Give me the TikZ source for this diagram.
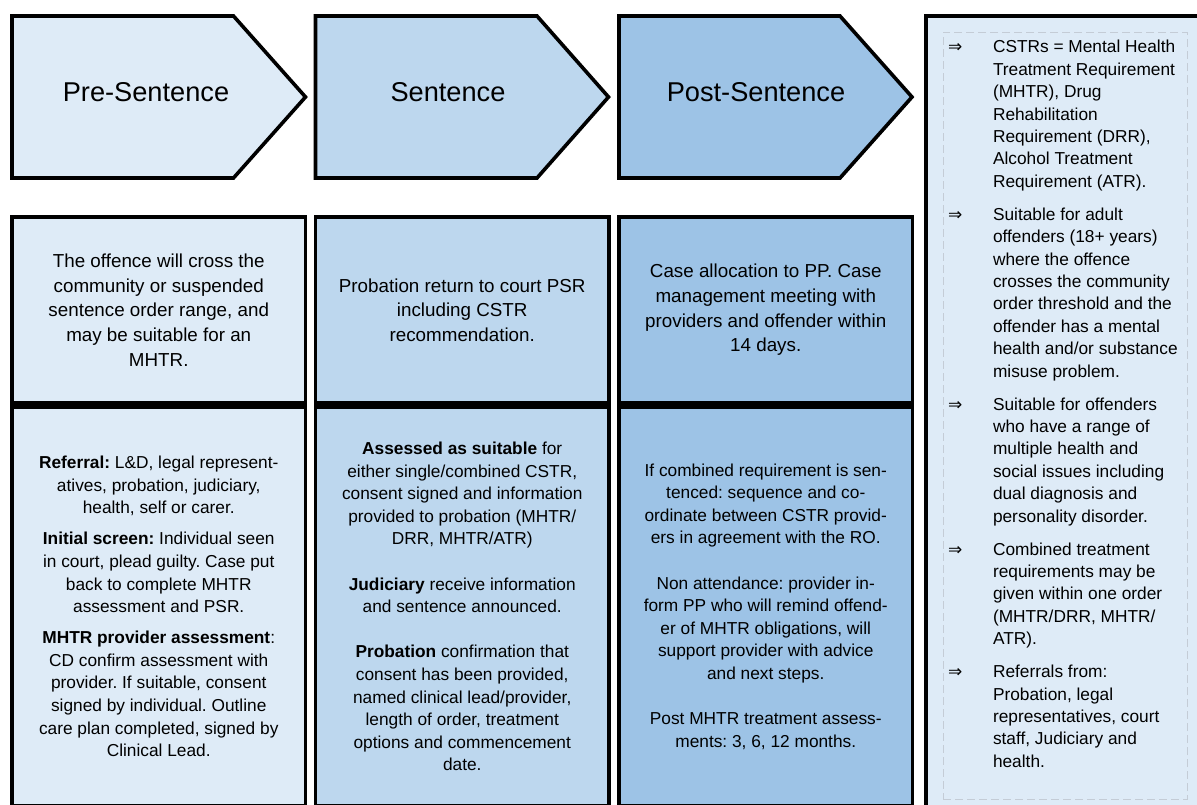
\documentclass[tikz,border=0pt]{standalone}
\usepackage{fontspec}
\setmainfont{Liberation Sans}
\newfontfamily\symfont{DejaVu Sans}
\usepackage{tikz}
\usetikzlibrary{positioning}
\frenchspacing
\definecolor{preblue}{HTML}{DEEBF7}
\definecolor{senblue}{HTML}{BDD7EE}
\definecolor{postblue}{HTML}{9DC3E6}
\definecolor{framegray}{HTML}{C4CCD6}
\tikzset{
  phase/.style      = {draw, line width=3.6pt, line join=miter},
  phasetitle/.style = {inner sep=0pt, font=\fontsize{27.2}{32}\selectfont},
  cell/.style       = {draw, line width=3.6pt, align=center, inner sep=0pt, outer sep=0pt, minimum width=293.5pt},
  midcell/.style    = {cell, minimum height=186pt, font=\fontsize{18.8}{24.7}\selectfont},
  lowcell/.style    = {cell, minimum height=399pt, font=\fontsize{17.3}{22.6}\selectfont},
  note/.style       = {inner sep=0pt, outer sep=0pt, anchor=north west, font=\fontsize{17.3}{22.4}\selectfont},
}
\newcommand\itemarrow{{\symfont\fontsize{17}{17}\selectfont ⇒}}

\begin{document}
\begin{tikzpicture}[x=1pt, y=1pt, node distance=10.6pt]
    \clip (0,0) rectangle (1197,-804);

    % Phase chevrons
    \draw[phase, fill=preblue] (12,-16) -- (233.5,-16) -- (305.5,-97) -- (233.5,-178) -- (12,-178) -- cycle;
    \draw[phase, fill=senblue] (315.5,-16) -- (537,-16) -- (608.5,-97) -- (537,-178) -- (315.5,-178) -- cycle;
    \draw[phase, fill=postblue] (619,-16) -- (840,-16) -- (912,-97) -- (840,-178) -- (619,-178) -- cycle;
    \node[phasetitle] (pre) at (146,-92.5) {Pre-Sentence};
    \node[phasetitle] (sen) at (448,-92.5) {Sentence};
    \node[phasetitle] (post) at (756,-92.5) {Post-Sentence};

    % Summary row
    \node[midcell, fill=preblue] (presum) at (158.75,-310) {The offence will cross the\\ community or suspended\\ sentence order range, and\\ may be suitable for an\\ MHTR.};
    \node[midcell, fill=senblue] (sensum) at (462.25,-310) {Probation return to court PSR\\ including CSTR\\ recommendation.};
    \node[midcell, fill=postblue] (postsum) at (765.75,-310) {Case allocation to PP. Case\\ management meeting with\\ providers and offender within\\ 14 days.};

    % Detail row (runs off the bottom edge)
    \node[lowcell, fill=preblue] (predet) at (158.75,-606.5) {\textbf{Referral:} L\&D, legal represent-\\ atives, probation, judiciary,\\ health, self or carer.\\[8.4pt]
      \textbf{Initial screen:} Individual seen\\ in court, plead guilty. Case put\\ back to complete MHTR\\ assessment and PSR.\\[8.4pt]
      \textbf{MHTR provider assessment}:\\ CD confirm assessment with\\ provider. If suitable, consent\\ signed by individual. Outline\\ care plan completed, signed by\\ Clinical Lead.};
    \node[lowcell, fill=senblue] (sendet) at (462.25,-606.5) {\textbf{Assessed as suitable} for\\ either single/combined CSTR,\\ consent signed and information\\ provided to probation (MHTR/\\ DRR, MHTR/ATR)\\[22.6pt]
      \textbf{Judiciary} receive information\\ and sentence announced.\\[22.6pt]
      \textbf{Probation} confirmation that\\ consent has been provided,\\ named clinical lead/provider,\\ length of order, treatment\\ options and commencement\\ date.};
    \node[lowcell, fill=postblue] (postdet) at (765.75,-606.5) {If combined requirement is sen-\\ tenced: sequence and co-\\ ordinate between CSTR provid-\\ ers in agreement with the RO.\\[22.6pt]
      Non attendance: provider in-\\ form PP who will remind offend-\\ er of MHTR obligations, will\\ support provider with advice\\ and next steps.\\[22.6pt]
      Post MHTR treatment assess-\\ ments: 3, 6, 12 months.};

    % Side notes panel
    \node[draw, line width=3.6pt, fill=preblue, inner sep=0pt, outer sep=0pt, anchor=north west, minimum width=300pt, minimum height=820pt] (notes) at (926,-16) {};
    \node[draw=framegray, dashed, dash pattern=on 8pt off 4pt, line width=0.9pt, inner sep=0pt, outer sep=0pt, anchor=north west, minimum width=244pt, minimum height=767pt] (frame) at (943,-32) {};

    \node[note] (cstr) at (948,-37.3) {\begin{tabular}{@{}p{45pt}@{}l@{}}
      \itemarrow & CSTRs = Mental Health\\ & Treatment Requirement\\ & (MHTR), Drug\\ & Rehabilitation\\ & Requirement (DRR),\\ & Alcohol Treatment\\ & Requirement (ATR).
    \end{tabular}};
    \node[note, below=of cstr.south west, anchor=north west] (adult) {\begin{tabular}{@{}p{45pt}@{}l@{}}
      \itemarrow & Suitable for adult\\ & offenders (18+ years)\\ & where the offence\\ & crosses the community\\ & order threshold and the\\ & offender has a mental\\ & health and/or substance\\ & misuse problem.
    \end{tabular}};
    \node[note, below=of adult.south west, anchor=north west] (multi) {\begin{tabular}{@{}p{45pt}@{}l@{}}
      \itemarrow & Suitable for offenders\\ & who have a range of\\ & multiple health and\\ & social issues including\\ & dual diagnosis and\\ & personality disorder.
    \end{tabular}};
    \node[note, below=of multi.south west, anchor=north west] (combined) {\begin{tabular}{@{}p{45pt}@{}l@{}}
      \itemarrow & Combined treatment\\ & requirements may be\\ & given within one order\\ & (MHTR/DRR, MHTR/\\ & ATR).
    \end{tabular}};
    \node[note, below=of combined.south west, anchor=north west] (refs) {\begin{tabular}{@{}p{45pt}@{}l@{}}
      \itemarrow & Referrals from:\\ & Probation, legal\\ & representatives, court\\ & staff, Judiciary and\\ & health.
    \end{tabular}};
  \end{tikzpicture}
\end{document}
